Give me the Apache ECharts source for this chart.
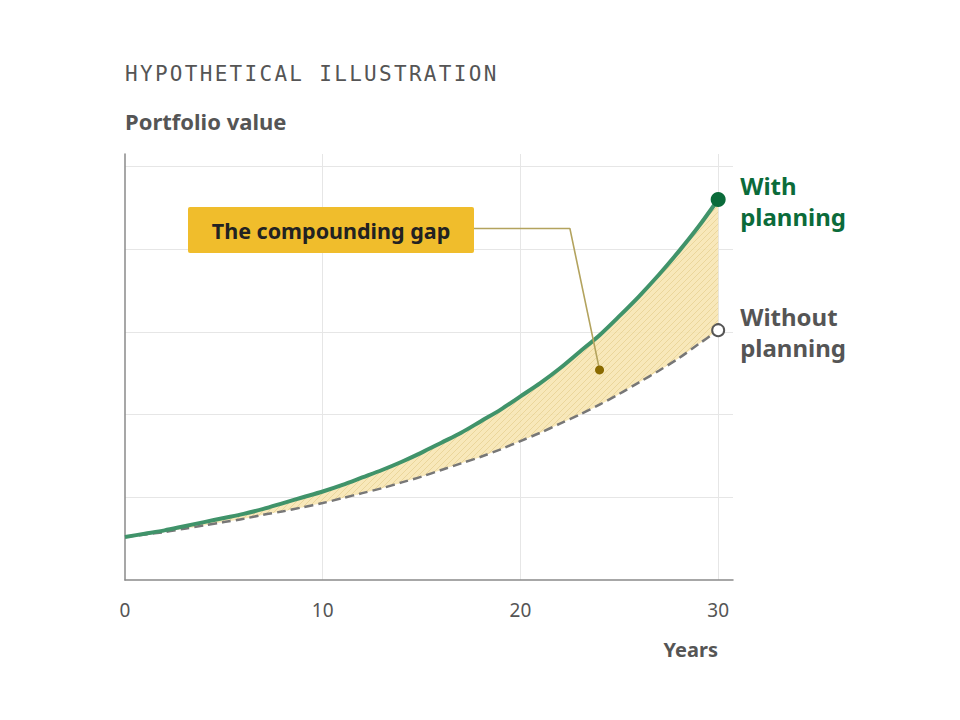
<!DOCTYPE html>
<html>
<head>
<meta charset="utf-8">
<script src="https://cdn.jsdelivr.net/npm/echarts@6/dist/echarts.min.js"></script>
<style>
    html, body { margin: 0; padding: 0; background: #fff; }
    #chart { width: 960px; height: 720px; }
    /* monospace kicker gets wide tracking */
    #chart text[style*="Mono"] { letter-spacing: 2.3px; }
</style>
</head>
<body>
<div id="chart"></div>
<script>
// years on the x axis
var years = [0,1,2,3,4,5,6,7,8,9,10,11,12,13,14,15,16,17,18,19,20,21,22,23,24,25,26,27,28,29,30];
// portfolio value
var withPlanning = [0.52,0.56,0.60,0.65,0.70,0.75,0.80,0.86,0.93,1.00,1.07,1.15,1.24,1.33,1.43,1.54,
    1.66,1.78,1.92,2.06,2.22,2.38,2.56,2.76,2.96,3.19,3.43,3.69,3.97,4.27,4.60];
var withoutPlanning = [0.52,0.55,0.58,0.62,0.66,0.70,0.74,0.79,0.83,0.88,0.93,0.99,1.05,1.11,1.18,1.25,
    1.33,1.41,1.49,1.58,1.68,1.78,1.89,2.00,2.12,2.25,2.39,2.53,2.68,2.85,3.02];
var xTicks = [0, 10, 20, 30];
// leader line for the annotation: box edge -> elbow -> year 24
var leaderYears = [17.65, 22.5, 24];
var leaderValues = [4.25, 4.25, null];

var green = '#40936a';
var darkGreen = '#0b6b3a';
var grey = '#555555';

// hatch fill for the gap
function hatch() {
    var c = document.createElement('canvas');
    c.width = 6; c.height = 6;
    var ctx = c.getContext('2d');
    ctx.fillStyle = '#f7e6b2';
    ctx.fillRect(0, 0, 6, 6);
    ctx.strokeStyle = '#e9d190';
    ctx.lineWidth = 1;
    ctx.beginPath();
    ctx.moveTo(0, 6); ctx.lineTo(6, 0);
    ctx.moveTo(-1, 1); ctx.lineTo(1, -1);
    ctx.moveTo(5, 7); ctx.lineTo(7, 5);
    ctx.stroke();
    return c;
}

var last = years.length - 1;
var dotYear = leaderYears[2];
var dotIdx = years.indexOf(dotYear);
var dotValue = (withPlanning[dotIdx] + withoutPlanning[dotIdx]) / 2;
leaderValues[2] = dotValue;

// stacked series keep the value first so the stack runs along y
var gap = [], withData = [], withoutData = [], leader = [];
for (var i = 0; i < years.length; i++) {
    withData.push([years[i], withPlanning[i]]);
    withoutData.push([withoutPlanning[i], years[i]]);
    gap.push([+(withPlanning[i] - withoutPlanning[i]).toFixed(3), years[i]]);
}
for (var j = 0; j < leaderYears.length; j++) {
    leader.push([leaderYears[j], leaderValues[j]]);
}

var myChart = echarts.init(document.getElementById('chart'), null, {renderer: 'svg'});
var option = {
    animation: false,
    grid: { left: 125, right: 227, top: 154, bottom: 140 },
    xAxis: {
        type: 'value',
        min: 0,
        max: 30.75,
        interval: 10,
        axisLine: { show: true, lineStyle: { color: '#8a8a8a', width: 1.5 } },
        axisTick: { show: false },
        axisLabel: {
            showMaxLabel: false,
            margin: 20,
            fontSize: 19,
            color: grey,
            fontFamily: 'Noto Sans',
            formatter: function (v) { return xTicks.indexOf(v) >= 0 ? String(v) : ''; }
        },
        splitLine: { show: true, showMinLine: false, showMaxLine: false, lineStyle: { color: '#e6e6e6', width: 1 } }
    },
    yAxis: {
        type: 'value',
        min: 0,
        max: 5.15,
        interval: 1,
        axisLine: { show: true, lineStyle: { color: '#8a8a8a', width: 1.5 } },
        axisTick: { show: false },
        axisLabel: { show: false },
        splitLine: { show: true, showMinLine: false, showMaxLine: false, lineStyle: { color: '#e6e6e6', width: 1 } }
    },
    series: [
        {
            name: 'Without planning',
            type: 'line',
            stack: 'gap',
            data: withoutData,
            encode: { x: 1, y: 0 },
            smooth: 0.3,
            symbol: 'none',
            z: 4,
            lineStyle: { color: '#777777', width: 2.5, type: [9, 5] },
            endLabel: {
                show: true,
                formatter: 'Without\nplanning',
                distance: 22,
                offset: [0, 2],
                fontSize: 24,
                lineHeight: 31,
                fontWeight: 'bold',
                fontFamily: 'Noto Sans',
                color: grey
            }
        },
        {
            name: 'gap',
            type: 'line',
            stack: 'gap',
            data: gap,
            encode: { x: 1, y: 0 },
            smooth: 0.3,
            symbol: 'none',
            z: 1,
            lineStyle: { opacity: 0 },
            areaStyle: { opacity: 0.9, color: { image: hatch(), repeat: 'repeat', imageWidth: 6, imageHeight: 6 } }
        },
        {
            name: 'With planning',
            type: 'line',
            data: withData,
            smooth: 0.3,
            symbol: 'none',
            z: 5,
            lineStyle: { color: green, width: 4 },
            endLabel: {
                show: true,
                formatter: 'With\nplanning',
                distance: 22,
                offset: [0, 2],
                fontSize: 24,
                lineHeight: 31,
                fontWeight: 'bold',
                fontFamily: 'Noto Sans',
                color: darkGreen
            }
        },
        {
            name: 'leader',
            type: 'line',
            data: leader,
            symbol: 'none',
            z: 6,
            lineStyle: { color: '#b3a35e', width: 1.6 }
        },
        {
            name: 'markers',
            type: 'scatter',
            z: 7,
            data: [
                { value: [years[last], withPlanning[last]], symbolSize: 15, itemStyle: { color: darkGreen, opacity: 1 } },
                { value: [years[last], withoutPlanning[last]], symbolSize: 12,
                  itemStyle: { color: '#ffffff', borderColor: grey, borderWidth: 2, opacity: 1 } },
                { value: [dotYear, dotValue], symbolSize: 9, itemStyle: { color: '#8a6a00', opacity: 1 } }
            ]
        }
    ],
    graphic: [
        {
            type: 'text',
            left: 125,
            top: 63,
            style: {
                text: 'HYPOTHETICAL ILLUSTRATION',
                fontFamily: 'DejaVu Sans Mono',
                fontSize: 21,
                fill: grey
            }
        },
        {
            type: 'text',
            left: 125,
            top: 110,
            style: {
                text: 'Portfolio value',
                fontFamily: 'Noto Sans',
                fontWeight: 'bold',
                fontSize: 22,
                fill: grey
            }
        },
        {
            type: 'rect',
            shape: { x: 188, y: 207, width: 286, height: 46, r: 2 },
            style: { fill: '#f0bd2c' },
            z: 10
        },
        {
            type: 'text',
            x: 331,
            y: 230,
            z: 11,
            style: {
                text: 'The compounding gap',
                align: 'center',
                verticalAlign: 'middle',
                fontFamily: 'Noto Sans',
                fontWeight: 'bold',
                fontSize: 21.5,
                fill: '#222222'
            }
        },
        {
            type: 'text',
            x: 718,
            y: 649,
            style: {
                text: 'Years',
                align: 'right',
                verticalAlign: 'middle',
                fontFamily: 'Noto Sans',
                fontWeight: 'bold',
                fontSize: 20,
                fill: grey
            }
        }
    ]
};
myChart.setOption(option);
</script>
</body>
</html>
